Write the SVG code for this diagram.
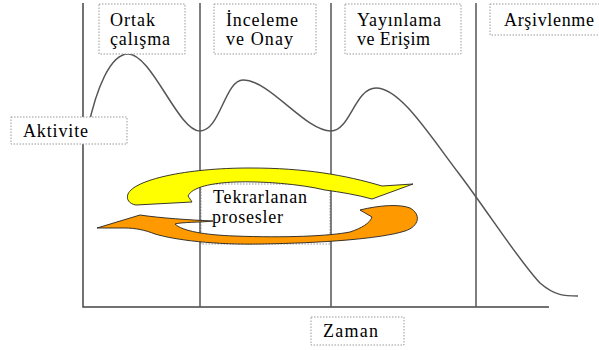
<svg xmlns="http://www.w3.org/2000/svg" width="599" height="350" viewBox="0 0 599 350">
<style>
.ax{stroke:#444;stroke-width:1.5;fill:none}
.vl{stroke:#555;stroke-width:1.5;fill:none}
.box{fill:#fff;stroke:#999;stroke-width:1;stroke-dasharray:1.5,1.5}
.arr{stroke:#222;stroke-width:0.9;stroke-linejoin:round}
text{font-family:'Liberation Serif','Times New Roman',serif;font-size:18px;fill:#000}
</style>
<rect width="599" height="350" fill="#fff"/>
<g id="curve">
<path class="vl" d="M 88,128 C 96,90 110,54 128,54 C 152,54 178,131 200,131 C 220,131 225,80 243,80 C 270,80 305,131 331,131 C 350,131 355,88 376,88 C 400,88 428,133 460,175 C 490,215 520,262 540,283 C 555,296 565,296 578,296" stroke="#555" stroke-width="1.6"/>
</g>
<g id="tekrar-box"><rect class="box" x="201" y="184" width="129" height="60"/></g>
<g id="connectors">
<path class="ax" d="M 83,3 V 307 H 549"/>
<path class="vl" d="M 200,3 V 307 M 331,3 V 307 M 476,3 V 307"/>
</g>
<g id="label-ortak"><rect class="box" x="99" y="4" width="86" height="50"/><text x="110" y="26" textLength="45" lengthAdjust="spacing">Ortak</text><text x="110" y="45" textLength="60" lengthAdjust="spacing">çalışma</text></g>
<g id="label-inceleme"><rect class="box" x="214" y="4" width="102" height="50"/><text x="226" y="26" textLength="72" lengthAdjust="spacing">İnceleme</text><text x="226" y="45" textLength="67" lengthAdjust="spacing">ve Onay</text></g>
<g id="label-yayinlama"><rect class="box" x="345" y="4" width="116" height="50"/><text x="357" y="26" textLength="84" lengthAdjust="spacing">Yayınlama</text><text x="357" y="45" textLength="73" lengthAdjust="spacing">ve Erişim</text></g>
<g id="label-arsiv"><rect class="box" x="490" y="4" width="112" height="31"/><text x="504" y="26" textLength="90" lengthAdjust="spacing">Arşivlenme</text></g>
<g id="label-aktivite"><rect class="box" x="11" y="117" width="116" height="27"/><text x="23" y="137" textLength="65" lengthAdjust="spacing">Aktivite</text></g>
<g id="label-zaman"><rect class="box" x="311" y="317" width="93" height="28"/><text x="323" y="337" textLength="55" lengthAdjust="spacing">Zaman</text></g>
<g id="arrow-yellow"><path class="arr" fill="#ffff00" d="M 192,202 L 136,205 C 129,204 126,199 128,194 C 134,180 185,168 250,168 C 305,168 345,175 382,186 L 413,184 L 372,199 C 358,195 340,192 325,190 C 300,184 262,181 235,182 C 212,183 192,187 188,196 Z"/></g>
<g id="arrow-orange"><path class="arr" fill="#ff9900" d="M 97,228 L 140,215 C 160,218 190,220 213,221 C 200,222.5 182,222 175,224 C 182,231 205,235 235,236 C 285,238 330,236 350,232 C 362,228 370,223 372,217 L 360,210 C 380,205 400,204 410,208 C 421,214 420,226 405,231 C 380,239 320,243 262,244 C 215,245 175,240 155,234 C 145,230 135,228 125,228 Z"/></g>
<g id="label-tekrar"><text x="213" y="203" textLength="94" lengthAdjust="spacing">Tekrarlanan</text><text x="212" y="223" textLength="71" lengthAdjust="spacing">prosesler</text></g>
</svg>
